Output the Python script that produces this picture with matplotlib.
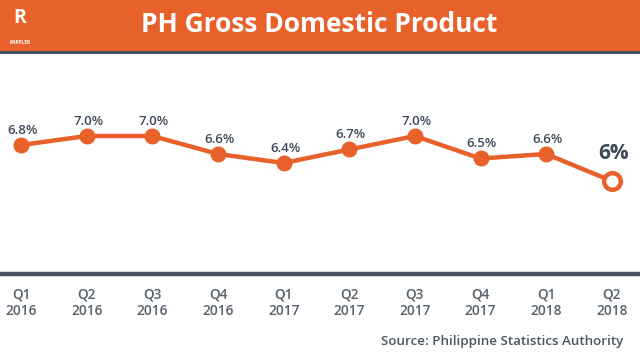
import matplotlib
matplotlib.use("Agg")
import matplotlib.pyplot as plt
from matplotlib.patches import Rectangle

quarters = ["Q1\n2016", "Q2\n2016", "Q3\n2016", "Q4\n2016", "Q1\n2017",
            "Q2\n2017", "Q3\n2017", "Q4\n2017", "Q1\n2018", "Q2\n2018"]
gdp = [6.8, 7.0, 7.0, 6.6, 6.4, 6.7, 7.0, 6.5, 6.6, 6.0]
value_labels = ["6.8%", "7.0%", "7.0%", "6.6%", "6.4%", "6.7%", "7.0%", "6.5%", "6.6%", "6%"]
title = "PH Gross Domestic Product"
source = "Source: Philippine Statistics Authority"

ORANGE = "#E8612B"
DARK = "#47525E"
TEXT = "#3E4A59"

plt.rcParams['font.family'] = ['Open Sans', 'DejaVu Sans']

W, H = 640, 360
fig = plt.figure(figsize=(6.4, 3.6), dpi=100)
fig.patch.set_facecolor("white")

# header bar
fig.patches.append(Rectangle((0, 1 - 51 / H), 1, 51 / H, transform=fig.transFigure,
                             facecolor=ORANGE, edgecolor="none", zorder=0))
fig.patches.append(Rectangle((0, 1 - 54 / H), 1, 3 / H, transform=fig.transFigure,
                             facecolor=DARK, edgecolor="none", zorder=0))
fig.text(319 / W, 1 - 25 / H, title, color="white", fontsize=19, fontweight="bold",
         ha="center", va="center")
fig.text(20 / W, 1 - 18 / H, "R", color="white", fontsize=14, fontweight="bold",
         ha="center", va="center")
fig.text(20 / W, 1 - 42 / H, "RAPPLER", color="white", fontsize=3.5, fontweight="bold",
         ha="center", va="center")

# axes in pixel layout
ax_bottom = 274
ax_top = 60
ax = fig.add_axes([0, 1 - ax_bottom / H, 1, (ax_bottom - ax_top) / H])
ax.set_facecolor("none")

x = list(range(len(gdp)))
ax.plot(x[:-1], gdp[:-1], color=ORANGE, lw=3.2, marker="o", markersize=10.5,
        solid_capstyle="round", zorder=3)
ax.plot(x[-2:], gdp[-2:], color=ORANGE, lw=3.2, zorder=2)
ax.plot(x[-1:], gdp[-1:], linestyle="none", marker="o", markersize=12,
        markerfacecolor="white", markeredgecolor=ORANGE, markeredgewidth=3.2, zorder=4)

for i, (v, lab) in enumerate(zip(gdp, value_labels)):
    if i == len(gdp) - 1:
        ax.annotate(lab, (i, v), xytext=(1.5, 20), textcoords="offset points",
                    ha="center", va="center", fontsize=15, fontweight="bold", color=TEXT)
    else:
        ax.annotate(lab, (i, v), xytext=(1, 10.5), textcoords="offset points",
                    ha="center", va="center", fontsize=9.5, fontweight="semibold", color=TEXT)

px_per = 65
ax.set_xlim(-21 / px_per, 9 + 28 / px_per)
ax.set_ylim(6.0 - (274 - 181) / 45, 7.0 + (136 - 60) / 45)

ax.set_xticks(x)
ax.set_xticklabels(quarters, fontsize=9.8, fontweight="semibold", color="#56616C",
                   linespacing=1.15)
ax.tick_params(axis="x", length=0, pad=10)
ax.set_yticks([])
for s in ["top", "left", "right"]:
    ax.spines[s].set_visible(False)
ax.spines["bottom"].set_color(DARK)
ax.spines["bottom"].set_linewidth(3.2)

fig.text(623 / W, 1 - 342 / H, source, color="#4A5563", fontsize=9.6, fontweight="semibold",
         ha="right", va="center")

fig.savefig("out.png", dpi=100)
